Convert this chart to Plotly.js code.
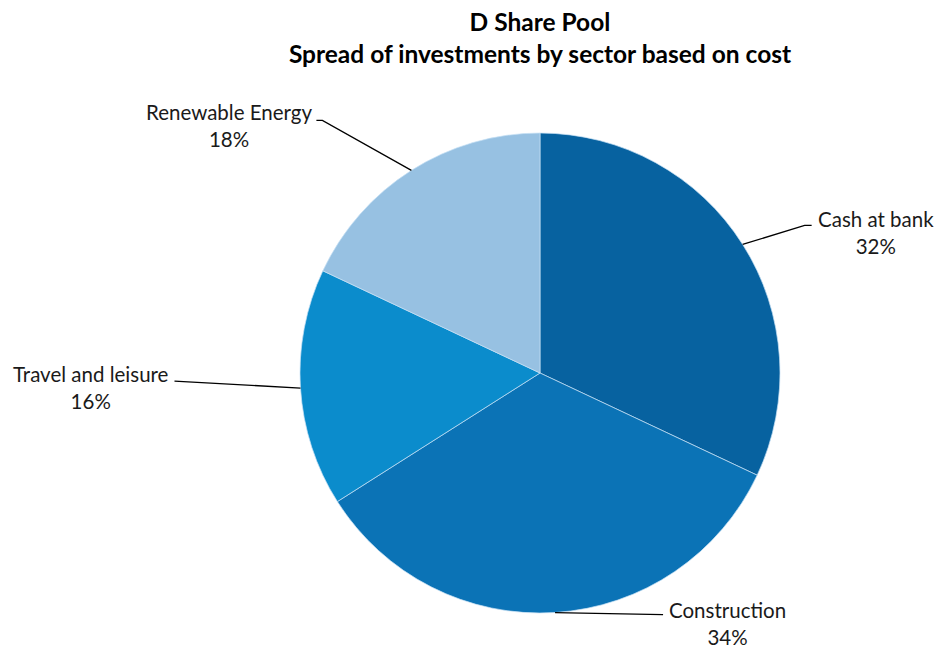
<!DOCTYPE html>
<html>
<head>
<meta charset="utf-8">
<script src="https://cdn.plot.ly/plotly-3.0.1.min.js"></script>
<style>html,body{margin:0;padding:0;background:#fff;}#chart{width:936px;height:650px;}</style>
</head>
<body>
<div id="chart"></div>
<script>
// ---- data ----
const sectors = ["Cash at bank", "Construction", "Travel and leisure", "Renewable Energy"];
const shares = [32, 34, 16, 18];
const colors = ["#0762a0", "#0b73b6", "#0b8ccc", "#97c1e2"];

// ---- layout config (pixels) ----
const W = 936, H = 650;
const cx = 540, cy = 373, R = 240;
const FONT = "Lato, 'Liberation Sans', sans-serif";
// leader-line offsets from the slice edge point: elbow, end, text anchor
const labelCfg = [
  {elbow:[62,-19], end:[69,-19], text:[73,-12], xanchor:"left"},
  {elbow:[108,2], end:[108,2], text:[112,11], xanchor:"left"},
  {elbow:[-126,-7], end:[-126,-7], text:[-129,-1], xanchor:"right"},
  {elbow:[-89,-50], end:[-95,-50], text:[-97,-45], xanchor:"right"}
];

const px = x => x / W;
const py = y => 1 - y / H;

const total = shares.reduce((a,b)=>a+b,0);
let cum = 0;
const shapes = [], annotations = [];
shares.forEach((v,i) => {
  const mid = (cum + v/2) / total * 2 * Math.PI;
  cum += v;
  const ex = cx + R * Math.sin(mid), ey = cy - R * Math.cos(mid);
  const c = labelCfg[i];
  const p1 = [ex + c.elbow[0], ey + c.elbow[1]];
  const p2 = [ex + c.end[0], ey + c.end[1]];
  shapes.push({type:"path", xref:"paper", yref:"paper",
    path:`M ${px(ex)} ${py(ey)} L ${px(p1[0])} ${py(p1[1])} L ${px(p2[0])} ${py(p2[1])}`,
    line:{color:"#000", width:1.3}});
  annotations.push({xref:"paper", yref:"paper", x:px(ex + c.text[0]), y:py(ey + c.text[1]),
    xanchor:c.xanchor, yanchor:"middle", align:"center", showarrow:false,
    text: sectors[i] + "<br>" + Math.round(v/total*100) + "%",
    font:{family:FONT, size:20.5, color:"#1a1a1a"}});
});

const trace = {
  type:"pie", labels:sectors, values:shares, sort:false, direction:"clockwise", rotation:0,
  marker:{colors:colors, line:{color:"rgba(200,225,245,0.7)", width:1}},
  textinfo:"none", hoverinfo:"label+percent",
  domain:{x:[px(cx-R), px(cx+R)], y:[py(cy+R), py(cy-R)]}
};

const layout = {
  width:W, height:H, margin:{l:0,r:0,t:0,b:0},
  paper_bgcolor:"#fff", showlegend:false,
  title:{text:"<b>D Share Pool<br>Spread of investments by sector based on cost</b>",
    x:px(540), xanchor:"center", xref:"paper", y:py(31), yref:"container", yanchor:"middle",
    font:{family:FONT, size:24.5, color:"#000"}},
  shapes:shapes, annotations:annotations
};

Plotly.newPlot("chart", [trace], layout, {displayModeBar:false, staticPlot:true});
</script>
</body>
</html>
